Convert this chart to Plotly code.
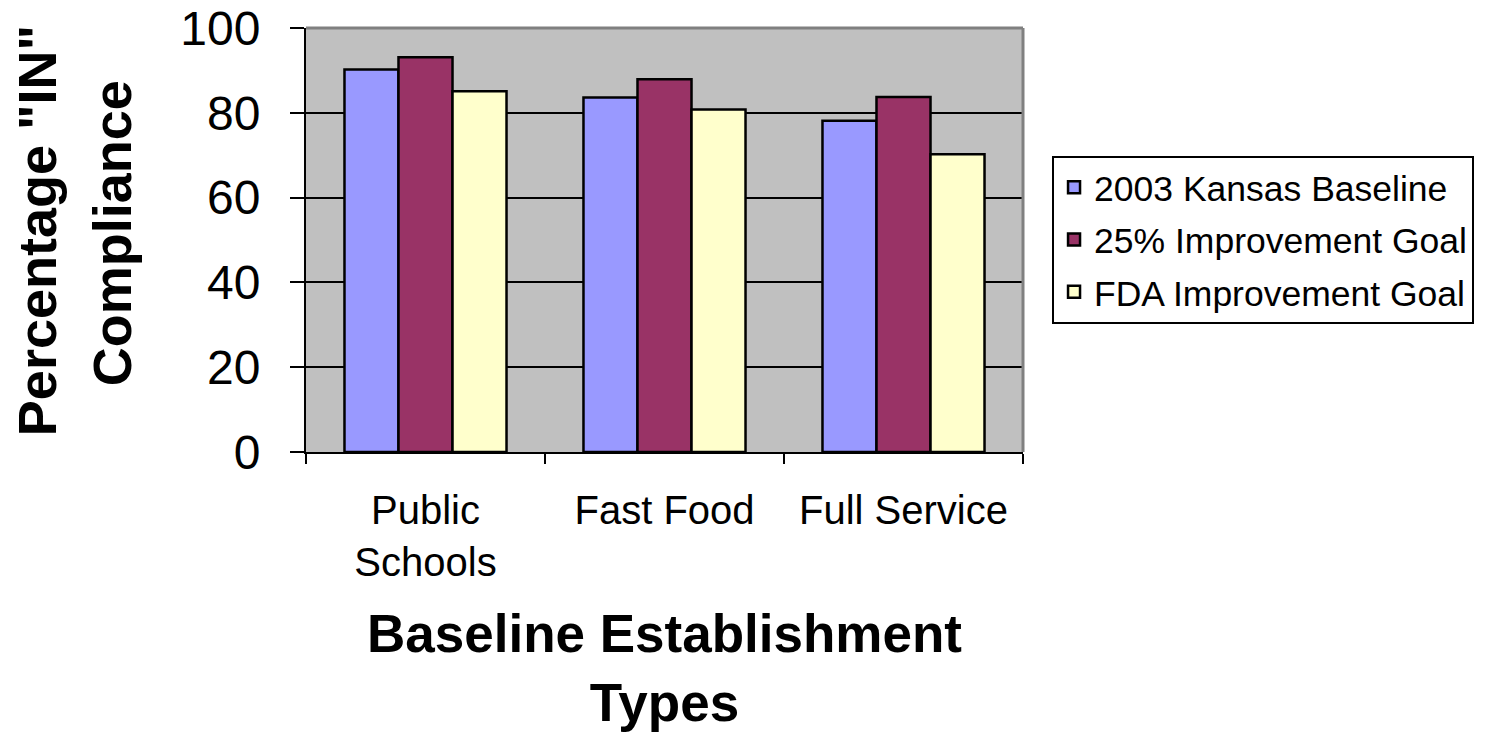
import plotly.graph_objects as go

categories = ["Public<br>Schools", "Fast Food", "Full Service"]
series_names = ["2003 Kansas Baseline", "25% Improvement Goal", "FDA Improvement Goal"]
baseline_2003 = [90.2, 83.6, 78.1]
improvement_25 = [93.1, 87.9, 83.7]
fda_goal = [85.1, 80.8, 70.2]
series_values = [baseline_2003, improvement_25, fda_goal]
colors = ["#9999FF", "#993366", "#FFFFCC"]
y_ticks = [0, 20, 40, 60, 80, 100]
y_title_lines = ["Percentage \"IN\"", "Compliance"]
x_title = "Baseline Establishment<br>Types"

FONT = "Liberation Sans, Arial, sans-serif"

fig = go.Figure()
for i, (name, vals) in enumerate(zip(series_names, series_values)):
    fig.add_trace(go.Bar(
        x=categories, y=vals, name=name,
        marker=dict(color=colors[i], line=dict(color="black", width=2.5)),
        legendgroup=f"g{i}",
    ))

fig.update_layout(
    width=1486, height=735,
    margin=dict(l=306, r=463, t=28, b=283, autoexpand=False),
    paper_bgcolor="white",
    plot_bgcolor="#C0C0C0",
    barmode="group",
    bargap=0.322,
    bargroupgap=0,
    font=dict(family=FONT, color="black"),
    showlegend=True,
    legend=dict(
        x=1.0405, y=0.6986, xanchor="left", yanchor="top",
        bgcolor="white", bordercolor="black", borderwidth=2,
        font=dict(size=35.5, family=FONT, color="black"),
        tracegroupgap=3,
        traceorder="grouped",
    ),
    xaxis=dict(
        automargin=False,
        showline=True, linecolor="black", linewidth=2,
        ticks="outside", tickson="boundaries", ticklen=10, tickwidth=2, tickcolor="black",
        tickfont=dict(size=40, family=FONT, color="black"),
        ticklabelstandoff=22,
        showgrid=False,
    ),
    yaxis=dict(
        automargin=False,
        range=[0, 100], tickvals=y_ticks,
        showline=True, linecolor="black", linewidth=2,
        ticks="outside", ticklen=14, tickwidth=2, tickcolor="black",
        tickfont=dict(size=48, family=FONT, color="black"),
        ticklabelstandoff=20,
        ticklabeloverflow="allow",
        showgrid=True, gridcolor="black", gridwidth=1.5,
        zeroline=False,
    ),
    shapes=[
        dict(type="line", xref="paper", yref="paper", x0=0, x1=1, y0=1, y1=1,
             line=dict(color="#808080", width=3)),
        dict(type="line", xref="paper", yref="paper", x0=1, x1=1, y0=0, y1=1,
             line=dict(color="#808080", width=3)),
    ],
    annotations=[
        dict(text=f"<b>{y_title_lines[0]}</b>", textangle=-90,
             xref="paper", yref="paper", x=-0.3759, y=0.522,
             xanchor="center", yanchor="middle", showarrow=False,
             font=dict(size=54, family=FONT, color="black")),
        dict(text=f"<b>{y_title_lines[1]}</b>", textangle=-90,
             xref="paper", yref="paper", x=-0.2713, y=0.517,
             xanchor="center", yanchor="middle", showarrow=False,
             font=dict(size=54, family=FONT, color="black")),
        dict(text=f"<b>{x_title}</b>",
             xref="paper", yref="paper", x=0.5, y=-0.51,
             xanchor="center", yanchor="middle", showarrow=False,
             font=dict(size=53, family=FONT, color="black")),
    ],
)

fig.write_html("out.html")
